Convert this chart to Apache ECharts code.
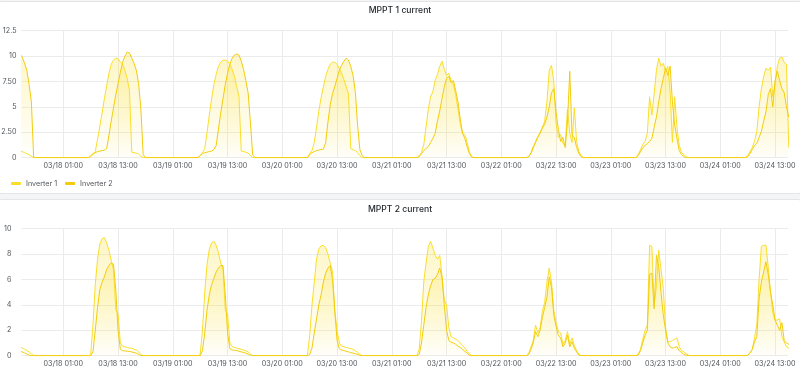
<!DOCTYPE html>
<html>
<head>
<meta charset="utf-8">
<script src="https://cdn.jsdelivr.net/npm/echarts@6/dist/echarts.min.js"></script>
<style>
  html, body { margin: 0; padding: 0; width: 800px; height: 378px; overflow: hidden; background: #f4f5f5; }
  .panel { position: absolute; background: #fff; border: 1px solid #e4e5e8; border-radius: 2px; box-sizing: border-box; }
  #panel1 { left: -1px; top: 1px; width: 802px; height: 193px; }
  #panel2 { left: -1px; top: 199px; width: 802px; height: 200px; }
  .chart { position: absolute; left: 0; width: 800px; }
  #mppt1 { top: 0; height: 194px; }
  #mppt2 { top: 200px; height: 178px; }
</style>
</head>
<body>
<div class="panel" id="panel1"></div>
<div class="panel" id="panel2"></div>
<div class="chart" id="mppt1"></div>
<div class="chart" id="mppt2"></div>
<script>
// time window shown, ticks every 12 h (01:00 / 13:00)
const axisMin = '03/17 15:50'
const axisMax = '03/24 15:50'
const tickHours = 12

// every day's samples start at dayStarts[i], one value each 30 min
const dayStarts = ['03/17 15:30', '03/18 06:30', '03/19 06:30', '03/20 06:30', '03/21 06:30', '03/22 06:30', '03/23 06:30', '03/24 06:30']
const sampleStep = 30

const seriesNames = ['Inverter 1', 'Inverter 2']
const seriesColors = ['#FADE2A', '#F2CC0C']

const mppt1Ticks = [0, 2.5, 5, 7.5, 10, 12.5]
const mppt1Labels = ['0', '2.50', '5', '7.50', '10', '12.5']
const mppt2Ticks = [0, 2, 4, 6, 8, 10]
const mppt2Labels = ['0', '2', '4', '6', '8', '10']

// MPPT 1 current
const mppt1Inverter1 = [
	[0.7, 0.6, 0.5, 0.4, 0.3, 0.15, 0, 0],
	[0, 0.1, 0.3, 0.6, 1.8, 3.1, 4.4, 5.8, 7.1, 8.3, 9.2, 9.6, 9.8, 9.75, 9.4, 9.2, 8.6, 7.8, 6.6, 0.55, 0.5, 0.45, 0.35, 0.15, 0, 0],
	[0, 0.2, 0.5, 0.9, 2.5, 4.2, 5.8, 7.2, 8.2, 9.0, 9.4, 9.6, 9.6, 9.5, 9.2, 8.7, 8.0, 7.0, 6.0, 0.65, 0.6, 0.55, 0.45, 0.25, 0, 0],
	[0, 0.4, 0.7, 1.5, 3.0, 4.6, 5.9, 7.0, 8.0, 8.7, 9.2, 9.4, 9.4, 9.2, 8.8, 8.3, 7.7, 7.0, 6.3, 0.9, 0.8, 0.7, 0.5, 0.2, 0, 0],
	[0, 0.2, 0.5, 1.3, 3.0, 4.8, 6.0, 6.5, 7.6, 8.2, 9.0, 9.5, 8.7, 8.1, 8.3, 7.6, 7.2, 6.2, 4.8, 3.3, 2.4, 2.3, 1.5, 0.6, 0, 0],
	[0, 0.1, 0.4, 0.9, 1.6, 2.1, 2.5, 3.0, 3.6, 5.5, 8.6, 9.1, 7.5, 3.4, 2.0, 2.3, 1.4, 1.2, 4.8, 2.4, 1.5, 4.9, 1.6, 0.6, 0.2, 0],
	[0, 0.3, 0.8, 1.3, 1.6, 2.4, 6.0, 4.2, 6.3, 8.6, 9.8, 9.0, 9.3, 8.5, 9.0, 6.5, 1.5, 6.0, 3.0, 1.2, 0.5, 0.3, 0.1, 0, 0, 0],
	[0, 0.2, 0.6, 1.0, 1.6, 2.6, 5.0, 6.8, 8.0, 8.8, 8.6, 8.9, 6.0, 7.3, 9.0, 9.8, 9.9, 9.4, 9.2, 1.0]
]
const mppt1Inverter2 = [
	[10.2, 9.9, 9.3, 8.6, 7.2, 5.5, 0, 0],
	[0, 0.2, 0.4, 0.5, 0.6, 0.65, 0.7, 0.75, 0.9, 2.2, 3.6, 4.9, 6.2, 7.3, 8.4, 9.4, 10.0, 10.4, 10.3, 9.8, 9.3, 8.6, 7.3, 4.8, 0.3, 0],
	[0, 0.2, 0.4, 0.5, 0.55, 0.6, 0.65, 0.8, 1.2, 2.8, 4.4, 5.8, 7.2, 8.3, 9.2, 9.8, 10.1, 10.2, 10.1, 9.5, 8.7, 7.6, 6.4, 3.5, 0.3, 0],
	[0, 0.3, 0.5, 0.6, 0.7, 0.75, 0.8, 0.85, 1.5, 3.5, 5.2, 6.3, 7.0, 7.8, 8.6, 9.1, 9.5, 9.8, 9.6, 9.0, 8.1, 6.5, 3.2, 0.8, 0.2, 0],
	[0, 0.1, 0.4, 0.7, 0.9, 1.1, 1.5, 1.9, 2.4, 3.6, 4.6, 5.8, 7.0, 7.8, 8.0, 7.4, 7.6, 6.6, 5.5, 3.8, 2.4, 1.9, 1.1, 0.4, 0.1, 0],
	[0, 0.1, 0.5, 1.1, 1.5, 2.0, 2.4, 2.9, 3.3, 4.0, 5.0, 6.4, 6.8, 4.5, 2.8, 1.6, 2.0, 1.0, 3.5, 8.5, 2.2, 2.0, 1.0, 0.4, 0.1, 0],
	[0, 0.2, 0.6, 1.0, 1.2, 1.4, 1.6, 1.9, 3.0, 4.0, 5.5, 6.8, 7.8, 8.8, 8.1, 9.0, 5.5, 3.2, 1.9, 0.7, 0.3, 0.1, 0, 0, 0, 0],
	[0, 0.1, 0.4, 0.8, 1.2, 1.4, 2.0, 2.6, 3.6, 4.5, 6.2, 6.8, 5.0, 7.6, 8.5, 7.6, 6.8, 6.4, 5.0, 4.0]
]

// MPPT 2 current
const mppt2Inverter1 = [
	[0.7, 0.6, 0.52, 0.42, 0.3, 0.15, 0, 0],
	[0, 0.1, 2.4, 5.6, 7.6, 8.8, 9.2, 9.3, 8.9, 8.3, 7.5, 6.8, 3.6, 3.3, 1.0, 0.75, 0.7, 0.65, 0.6, 0.6, 0.5, 0.45, 0.3, 0.1, 0, 0],
	[0, 0.1, 2.0, 5.0, 7.2, 8.4, 8.9, 9.0, 8.7, 8.1, 7.3, 6.8, 3.6, 3.3, 1.0, 0.72, 0.65, 0.6, 0.55, 0.5, 0.45, 0.38, 0.3, 0.15, 0, 0],
	[0, 1.6, 4.0, 5.8, 7.6, 8.4, 8.65, 8.7, 8.5, 8.0, 7.3, 6.6, 3.6, 2.0, 1.0, 0.75, 0.7, 0.65, 0.6, 0.55, 0.5, 0.4, 0.25, 0.1, 0, 0],
	[0, 0.5, 2.7, 5.8, 7.3, 8.6, 9.0, 8.5, 7.9, 7.6, 7.9, 6.3, 4.4, 4.0, 2.2, 1.5, 1.4, 1.3, 1.2, 1.0, 0.8, 0.6, 0.35, 0.15, 0, 0],
	[0, 0.2, 0.7, 1.2, 2.4, 1.8, 2.2, 3.5, 4.2, 5.8, 6.9, 5.8, 3.6, 2.6, 1.9, 1.8, 0.9, 1.2, 1.9, 0.9, 1.4, 0.8, 0.4, 0.1, 0, 0],
	[0, 0.1, 0.5, 1.3, 2.0, 2.4, 8.7, 8.6, 4.0, 5.5, 8.3, 6.8, 5.3, 2.2, 1.1, 1.1, 1.2, 1.3, 1.4, 0.7, 0.4, 0.3, 0.15, 0.05, 0, 0],
	[0, 0.05, 0.2, 0.5, 1.4, 2.5, 6.0, 8.6, 8.7, 8.7, 7.0, 5.0, 3.4, 2.8, 2.8, 2.9, 1.5, 1.1, 0.7, 0.6]
]
const mppt2Inverter2 = [
	[0.35, 0.3, 0.22, 0.14, 0.05, 0, 0, 0],
	[0, 0, 0.3, 2.0, 3.8, 5.2, 5.8, 6.2, 6.8, 7.1, 7.3, 7.2, 5.2, 2.0, 0.5, 0.4, 0.38, 0.35, 0.33, 0.3, 0.25, 0.2, 0.1, 0.02, 0, 0],
	[0, 0, 0.4, 1.8, 3.6, 4.8, 5.6, 6.1, 6.6, 6.9, 7.1, 7.1, 4.8, 1.8, 0.55, 0.45, 0.42, 0.4, 0.35, 0.3, 0.25, 0.2, 0.12, 0.05, 0, 0],
	[0, 0.1, 0.6, 1.8, 2.9, 4.0, 4.8, 5.8, 6.5, 6.9, 7.1, 6.0, 3.5, 1.2, 0.55, 0.45, 0.4, 0.35, 0.3, 0.25, 0.2, 0.15, 0.1, 0.02, 0, 0],
	[0, 0.1, 1.0, 2.4, 3.8, 4.8, 5.5, 6.0, 6.1, 6.4, 6.9, 6.2, 4.0, 2.0, 1.2, 1.05, 1.0, 0.9, 0.75, 0.65, 0.5, 0.35, 0.2, 0.05, 0, 0],
	[0, 0.1, 0.5, 1.0, 1.9, 1.5, 2.0, 3.0, 3.8, 4.6, 6.2, 5.4, 3.2, 2.3, 1.6, 1.4, 0.7, 1.0, 1.6, 0.7, 1.1, 0.6, 0.3, 0.05, 0, 0],
	[0, 0.05, 0.4, 1.0, 1.6, 2.0, 6.4, 6.5, 3.7, 7.9, 7.0, 5.0, 3.2, 2.0, 1.0, 0.7, 0.6, 0.65, 0.7, 0.4, 0.25, 0.1, 0.05, 0, 0, 0],
	[0, 0.05, 0.2, 0.5, 1.1, 1.5, 4.5, 5.8, 6.6, 7.4, 6.4, 5.0, 4.0, 2.8, 2.4, 2.0, 2.6, 1.2, 1.0, 0.9]
]

// hours counted from 03/17 01:00, so multiples of 12 fall on 01:00 / 13:00
const originMs = Date.UTC(2024, 2, 17, 1, 0)
const toHours = (s) => {
	const [md, hm] = s.split(' ')
	const [mo, d] = md.split('/').map(Number)
	const [h, m] = hm.split(':').map(Number)
	return (Date.UTC(2024, mo - 1, d, h, m) - originMs) / 3600000
}
const pad = (n) => String(n).padStart(2, '0')
const fmtTime = (v) => {
	const d = new Date(originMs + Math.round(v * 60) * 60000)
	return pad(d.getUTCMonth() + 1) + '/' + pad(d.getUTCDate()) + ' ' + pad(d.getUTCHours()) + ':' + pad(d.getUTCMinutes())
}

function buildSeries(days) {
	const out = []
	days.forEach((vals, i) => {
		const t0 = toHours(dayStarts[i])
		vals.forEach((v, j) => out.push([t0 + j * sampleStep / 60, v]))
	})
	return out
}

const textColor = '#52565b'
const gridColor = '#ebebec'
const fontFamily = 'Inter, Roboto, sans-serif'

function lineSeries(name, color, days) {
	return {
		name: name,
		type: 'line',
		data: buildSeries(days),
		showSymbol: false,
		symbol: 'none',
		animation: false,
		emphasis: { disabled: true },
		lineStyle: { width: 1, color: color },
		itemStyle: { color: color },
		areaStyle: {
			color: new echarts.graphic.LinearGradient(0, 0, 0, 1, [
				{ offset: 0, color: 'rgba(250, 222, 42, 0.38)' },
				{ offset: 1, color: 'rgba(250, 222, 42, 0.02)' }
			])
		}
	}
}

function panelOption(cfg) {
	return {
		animation: false,
		title: {
			text: cfg.title,
			left: 'center',
			top: cfg.titleTop,
			textStyle: { fontSize: 8.6, fontWeight: 500, color: '#24292e', fontFamily: fontFamily }
		},
		legend: {
			show: cfg.legend,
			left: 6,
			top: 175,
			icon: 'roundRect',
			itemWidth: 10,
			itemHeight: 3,
			itemGap: 8,
			data: seriesNames,
			textStyle: { fontSize: 7.2, color: textColor, fontFamily: fontFamily }
		},
		grid: { left: 21.5, right: 12, top: cfg.gridTop, height: 127, containLabel: false, outerBoundsMode: 'none' },
		xAxis: {
			type: 'value',
			min: toHours(axisMin),
			max: toHours(axisMax),
			minInterval: tickHours,
			maxInterval: tickHours,
			axisLine: { show: false },
			axisTick: { show: false },
			axisLabel: {
				interval: 0,
				margin: 5,
				showMinLabel: false,
				showMaxLabel: false,
				fontSize: 7.2,
				color: textColor,
				fontFamily: fontFamily,
				formatter: fmtTime
			},
			splitLine: { show: true, showMinLine: false, showMaxLine: false, lineStyle: { color: gridColor, width: 1 } }
		},
		yAxis: {
			type: 'value',
			min: 0,
			max: cfg.ticks[cfg.ticks.length - 1],
			interval: cfg.ticks[1],
			axisLine: { show: false },
			axisTick: { show: false },
			axisLabel: {
				margin: cfg.labelMargin,
				fontSize: 7.2,
				color: textColor,
				fontFamily: fontFamily,
				formatter: (v) => {
					const i = cfg.ticks.indexOf(v)
					return i >= 0 ? cfg.labels[i] : String(v)
				}
			},
			splitLine: { lineStyle: { color: gridColor, width: 1 } }
		},
		series: [
			lineSeries(seriesNames[0], seriesColors[0], cfg.data[0]),
			lineSeries(seriesNames[1], seriesColors[1], cfg.data[1])
		]
	}
}

const chart1 = echarts.init(document.getElementById('mppt1'), null, { renderer: 'canvas' })
chart1.setOption(panelOption({
	title: 'MPPT 1 current',
	titleTop: 1,
	gridTop: 30.7,
	legend: true,
	ticks: mppt1Ticks,
	labels: mppt1Labels,
	labelMargin: 5,
	data: [mppt1Inverter1, mppt1Inverter2]
}))

const chart2 = echarts.init(document.getElementById('mppt2'), null, { renderer: 'canvas' })
chart2.setOption(panelOption({
	title: 'MPPT 2 current',
	titleTop: 0,
	gridTop: 28.7,
	legend: false,
	ticks: mppt2Ticks,
	labels: mppt2Labels,
	labelMargin: 10,
	data: [mppt2Inverter1, mppt2Inverter2]
}))
</script>
</body>
</html>
